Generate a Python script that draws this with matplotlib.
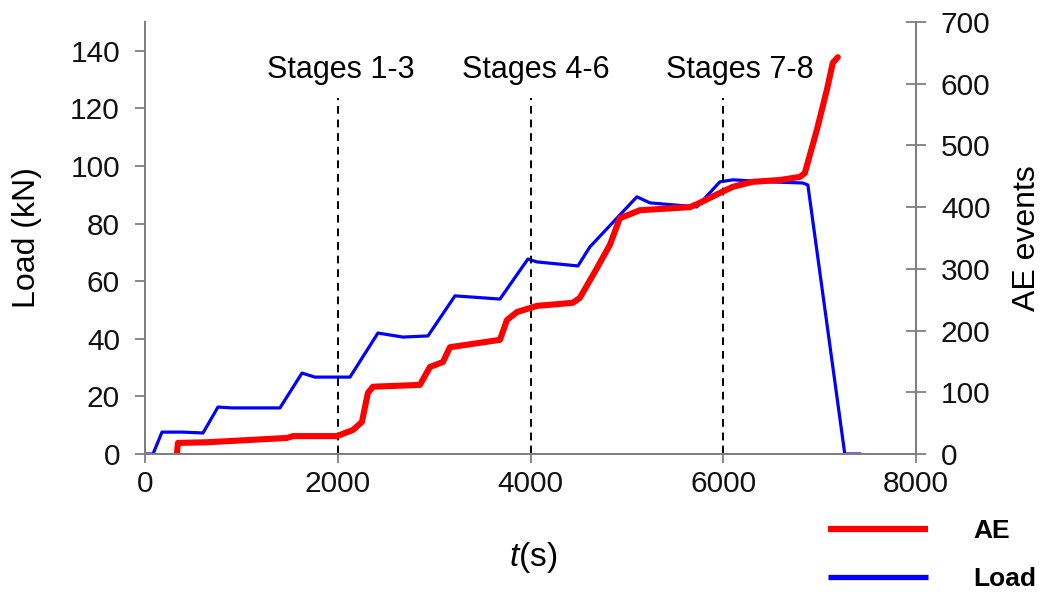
import matplotlib.pyplot as plt

plt.rcParams["font.family"] = ["Liberation Sans", "DejaVu Sans"]
plt.rcParams["mathtext.fontset"] = "custom"
plt.rcParams["mathtext.rm"] = "Liberation Sans"
plt.rcParams["mathtext.it"] = "Liberation Sans:italic"

# ── Data ──────────────────────────────────────────────────────────────────────
load_t = [0, 83, 176, 394, 602, 757, 902, 1400, 1629, 1763, 2127, 2417, 2676,
          2936, 3216, 3683, 3973, 4066, 4492, 4616, 5104, 5239, 5726, 5965,
          6100, 6400, 6826, 6878, 7261, 7417]
load_kn = [0, 0, 7.6, 7.6, 7.3, 16.3, 16.0, 16.0, 28.1, 26.7, 26.7, 42.0, 40.6,
           41.0, 54.9, 53.8, 67.7, 66.7, 65.3, 71.9, 89.3, 87.2, 85.8, 94.5,
           95.2, 94.6, 94.1, 93.4, 0, 0]

ae_t = [332, 342, 643, 1473, 1535, 1992, 2158, 2251, 2313, 2365, 2853, 2956,
        3091, 3164, 3683, 3755, 3859, 4066, 4440, 4512, 4689, 4824, 4927, 5135,
        5654, 5757, 5965, 6100, 6307, 6587, 6795, 6846, 6971, 7075, 7137, 7189]
ae_events = [2, 18, 19, 26, 29, 29, 39, 52, 99, 109, 112, 141, 149, 173, 185,
             217, 230, 240, 245, 253, 301, 339, 382, 395, 400, 407, 423, 433,
             441, 444, 449, 455, 525, 590, 634, 643]

stage_t = [2000, 4000, 6000]
stage_labels = ["Stages 1-3", "Stages 4-6", "Stages 7-8"]
stage_label_t = [2033, 4056, 6172]

GREY = "#7f7f7f"

# ── Plot ──────────────────────────────────────────────────────────────────────
fig = plt.figure(figsize=(10.43, 5.92), dpi=100)
ax = fig.add_axes([145 / 1043, 1 - 454 / 592, (916 - 145) / 1043, (454 - 22) / 592])
ax2 = ax.twinx()

l_load, = ax.plot(load_t, load_kn, color="#0000ff", linewidth=2.3, label="Load")
l_ae, = ax2.plot(ae_t, ae_events, color="#ff0000", linewidth=4.4,
                 solid_capstyle="round", label="AE")

for t, lab, lt in zip(stage_t, stage_labels, stage_label_t):
    ax.plot([t, t], [0, 123.5], color="black", linestyle=(0, (4, 3)), linewidth=1.4)
    ax.text(lt, 130.6, lab, ha="center", va="baseline", fontsize=22)

ax.set_xlim(0, 8000)
ax.set_ylim(0, 150)
ax2.set_ylim(0, 700)
ax.set_xticks([0, 2000, 4000, 6000, 8000])
ax.set_yticks(range(0, 141, 20))
ax2.set_yticks(range(0, 701, 100))

for a in (ax, ax2):
    for s in a.spines.values():
        s.set_color(GREY)
        s.set_linewidth(1.4)
    a.spines["top"].set_visible(False)
    a.tick_params(width=1.3, color=GREY, labelsize=21.5, labelcolor="#111111")
ax.tick_params(axis="y", direction="out", length=7, pad=11)
ax.tick_params(axis="x", direction="inout", length=13, pad=5)
ax2.tick_params(axis="y", direction="inout", length=14, pad=11)

ax.set_ylabel("Load (kN)", fontsize=23)
ax.yaxis.set_label_coords(-0.133, 0.5)
ax2.set_ylabel("AE events", fontsize=23)
ax2.yaxis.set_label_coords(1.124, 0.5)
ax.set_xlabel("$t$(s)", fontsize=24)
ax.xaxis.set_label_coords(0.503, -0.20)

leg = fig.legend([l_ae, l_load], ["AE", "Load"], loc="center",
                 bbox_to_anchor=(0.8936, 0.062), frameon=False, handlelength=3.8,
                 handletextpad=1.7, labelspacing=0.9,
                 prop={"weight": "bold", "size": 19})
for h, lw in zip(leg.get_lines(), (4.5, 3.8)):
    h.set_linewidth(lw)
    h.set_solid_capstyle("butt")

fig.savefig("out.png", dpi=100)
